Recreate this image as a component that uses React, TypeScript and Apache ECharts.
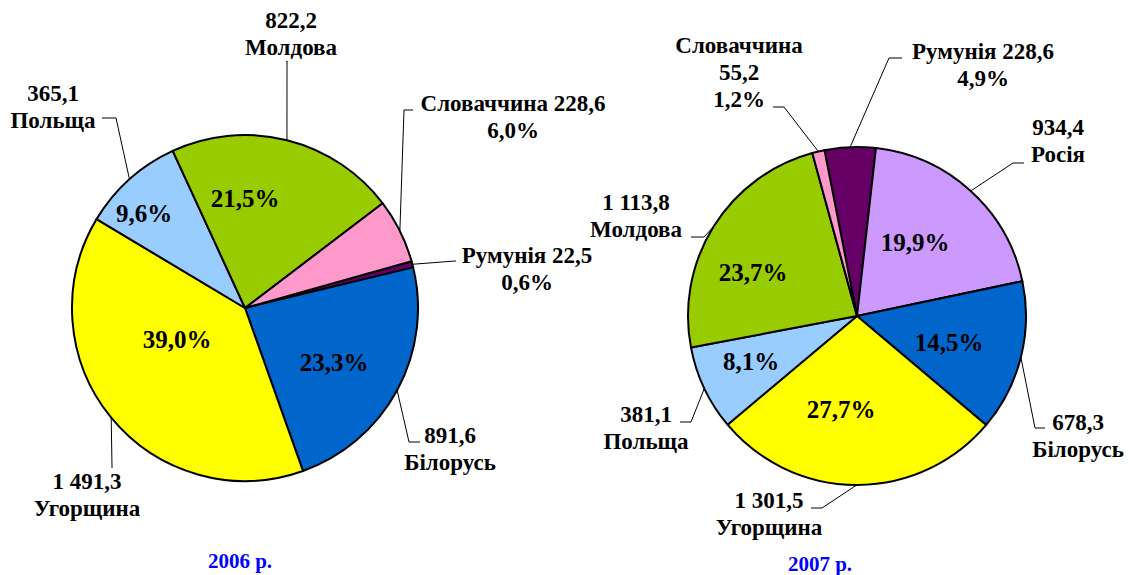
import React, { useEffect, useRef } from "react";
import * as echarts from "echarts";

// ---- data ----
const countries2006 = ["Румунія", "Білорусь", "Угорщина", "Польща", "Молдова", "Словаччина"];
const values2006 = [22.5, 891.6, 1491.3, 365.1, 822.2, 228.6];
const countries2007 = ["Румунія", "Росія", "Білорусь", "Угорщина", "Польща", "Молдова", "Словаччина"];
const values2007 = [228.6, 934.4, 678.3, 1301.5, 381.1, 1113.8, 55.2];
const yearTitles = ["2006 р.", "2007 р."];

// label text patterns: np = "name value\npct", vn = "value\nname", nvp = "name\nvalue\npct"
const pattern2006 = ["np", "vn", "vn", "vn", "vn", "np"];
const pattern2007 = ["np", "vn", "vn", "vn", "vn", "vn", "nvp"];

// ---- styles / layout ----
const colorOf: Record<string, string> = {
  "Румунія": "#660066",
  "Росія": "#CC99FF",
  "Білорусь": "#0066CC",
  "Угорщина": "#FFFF00",
  "Польща": "#99CCFF",
  "Молдова": "#99CC00",
  "Словаччина": "#FF99CC",
};

type Pt = [number, number];
interface PieLayout {
  center: Pt;
  r: number;
  startAngle: number;
  outside: Pt[];
  bend: Pt[];
  end: Pt[];
  inside: (Pt | null)[];
}

const layout2006: PieLayout = {
  center: [245, 308],
  r: 173,
  startAngle: 15.7,
  outside: [[527, 269], [450, 449], [87, 495], [53, 107], [291, 34], [513, 117]],
  bend: [[455, 261], [409, 442], [112, 467], [116, 118], [287, 61], [404, 110]],
  end: [[456, 261], [420, 442], [112, 468], [102, 118], [287, 62], [413, 110]],
  inside: [null, [334, 362], [177, 339], [144, 213], [245, 198], null],
};

const layout2007: PieLayout = {
  center: [857, 316],
  r: 169,
  startAngle: 101.1,
  outside: [[983, 65], [1058, 141], [1078, 436], [769, 514], [646, 428], [636, 216], [739, 72]],
  bend: [[889, 58], [1013, 163], [1035, 428], [822, 508], [691, 422], [704, 237], [784, 107]],
  end: [[902, 58], [1024, 163], [1045, 428], [811, 508], [680, 422], [691, 237], [773, 107]],
  inside: [null, [915, 242], [949, 342], [841, 409], [751, 361], [753, 272], null],
};

const FONT = "Liberation Serif";

function fmtValue(v: number): string {
  const [ip, dp] = v.toFixed(1).split(".");
  const withSp = ip.replace(/\B(?=(\d{3})+(?!\d))/g, " ");
  return withSp + "," + dp;
}

function pctStrings(values: number[]): string[] {
  const sum = values.reduce((a, b) => a + b, 0);
  return values.map((v) => ((v / sum) * 100).toFixed(1).replace(".", ",") + "%");
}

function edgePoints(values: number[], lay: PieLayout): Pt[] {
  const sum = values.reduce((a, b) => a + b, 0);
  let cum = 0;
  return values.map((v) => {
    const mid = lay.startAngle - ((cum + v / 2) / sum) * 360;
    cum += v;
    const a = (mid * Math.PI) / 180;
    return [lay.center[0] + lay.r * Math.cos(a), lay.center[1] - lay.r * Math.sin(a)] as Pt;
  });
}

function buildSeries(names: string[], values: number[], lay: PieLayout, id: string) {
  return {
    type: "pie",
    id,
    center: lay.center,
    radius: lay.r,
    startAngle: lay.startAngle,
    clockwise: true,
    avoidLabelOverlap: false,
    animation: false,
    silent: true,
    data: names.map((n, i) => ({ name: n, value: values[i], itemStyle: { color: colorOf[n] } })),
    itemStyle: { borderColor: "#000", borderWidth: 2 },
    label: { show: false },
    labelLine: { show: false },
  };
}

function buildLabels(names: string[], values: number[], patterns: string[], lay: PieLayout) {
  const pcts = pctStrings(values);
  const edges = edgePoints(values, lay);
  const els: any[] = [];
  names.forEach((n, i) => {
    const v = fmtValue(values[i]);
    let txt = `${v}\n${n}`;
    if (patterns[i] === "np") txt = `${n} ${v}\n${pcts[i]}`;
    if (patterns[i] === "nvp") txt = `${n}\n${v}\n${pcts[i]}`;
    els.push({
      type: "polyline",
      z: 100,
      silent: true,
      shape: { points: [edges[i], lay.bend[i], lay.end[i]] },
      style: { stroke: "#000", lineWidth: 1, fill: "none" },
    });
    els.push({
      type: "text",
      z: 101,
      silent: true,
      x: lay.outside[i][0],
      y: lay.outside[i][1],
      style: {
        text: txt,
        fill: "#000",
        font: `bold 23px ${FONT}`,
        lineHeight: 27,
        textAlign: "center",
        textVerticalAlign: "middle",
      },
    });
    const ip = lay.inside[i];
    if (ip) {
      els.push({
        type: "text",
        z: 101,
        silent: true,
        x: ip[0],
        y: ip[1],
        style: {
          text: pcts[i],
          fill: "#000",
          font: `bold 25px ${FONT}`,
          textAlign: "center",
          textVerticalAlign: "middle",
        },
      });
    }
  });
  return els;
}

export default function App() {
  const ref = useRef<HTMLDivElement>(null);
  useEffect(() => {
    if (!ref.current) return;
    const chart = echarts.init(ref.current, undefined, { renderer: "svg" });
    chart.setOption({
      animation: false,
      backgroundColor: "#ffffff",
      graphic: [
        ...buildLabels(countries2006, values2006, pattern2006, layout2006),
        ...buildLabels(countries2007, values2007, pattern2007, layout2007),
        {
          type: "text",
          z: 101,
          x: 240,
          y: 561,
          style: {
            text: yearTitles[0],
            fill: "#0000FF",
            font: `bold 21px ${FONT}`,
            textAlign: "center",
            textVerticalAlign: "middle",
          },
        },
        {
          type: "text",
          z: 101,
          x: 820,
          y: 564,
          style: {
            text: yearTitles[1],
            fill: "#0000FF",
            font: `bold 21px ${FONT}`,
            textAlign: "center",
            textVerticalAlign: "middle",
          },
        },
      ],
      series: [
        buildSeries(countries2006, values2006, layout2006, "p2006"),
        buildSeries(countries2007, values2007, layout2007, "p2007"),
      ],
    });
    return () => chart.dispose();
  }, []);
  return (
    <div
      ref={ref}
      style={{ position: "absolute", left: 0, top: 0, width: 1129, height: 575, background: "#fff" }}
    />
  );
}
